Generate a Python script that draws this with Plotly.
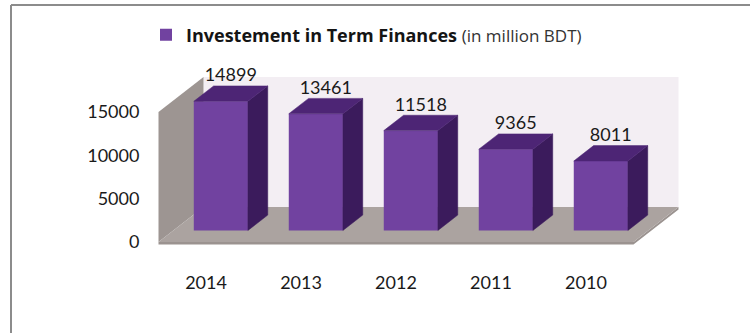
import plotly.graph_objects as go

# ---- data ----
years = ["2014", "2013", "2012", "2011", "2010"]
investment = [14899, 13461, 11518, 9365, 8011]
y_ticks = [0, 5000, 10000, 15000]
y_tick_text = ["0", "5000", "10000", "15000"]

# ---- oblique 3D projection (axis units) ----
WALL_TOP = 15000        # height of the side / back walls
DEPTH_X = 0.474         # full floor depth, horizontal shift in category units
DEPTH_Y = 4040          # full floor depth, vertical shift in value units
BAR_W = 0.57            # bar width in category units
BAR_D0, BAR_D1 = 0.33, 0.77   # bar front / back as fraction of floor depth

FRONT = "#7142a0"
TOP = "#4d2575"
SIDE = "#3b1b5c"
FLOOR = "#aba3a0"
FLOOR_EDGE = "#9b9390"
LWALL = "#9d9592"
BWALL = "#f3eef3"
FONT = "Lato"
LEGEND_FONT = "Open Sans"

W, H = 750, 333
M = dict(l=150, r=20, t=50, b=73)
X_RANGE = [-0.5895, 5.516]
Y_RANGE = [-2077, 22154]

n = len(years)
xs = list(range(n))


def paper_x(px):
    return (px - M["l"]) / (W - M["l"] - M["r"])


def paper_y(py):
    return (H - M["b"] - py) / (H - M["t"] - M["b"])


def poly_path(pts):
    return "M " + " L ".join(f"{x},{y}" for x, y in pts) + " Z"


fig = go.Figure()

# ---- walls and floor (drawn beneath the bars) ----
x_lo, x_hi = -0.5, n - 0.5
shapes = [
    # back wall
    dict(type="path", xref="x", yref="y", layer="below", line=dict(width=0),
         fillcolor=BWALL,
         path=poly_path([(x_lo + DEPTH_X, DEPTH_Y), (x_hi + DEPTH_X, DEPTH_Y),
                         (x_hi + DEPTH_X, WALL_TOP + DEPTH_Y),
                         (x_lo + DEPTH_X, WALL_TOP + DEPTH_Y)])),
    # left side wall
    dict(type="path", xref="x", yref="y", layer="below", line=dict(width=0),
         fillcolor=LWALL,
         path=poly_path([(x_lo, 0), (x_lo, WALL_TOP),
                         (x_lo + DEPTH_X, WALL_TOP + DEPTH_Y),
                         (x_lo + DEPTH_X, DEPTH_Y)])),
    # floor thickness
    dict(type="path", xref="x", yref="y", layer="below", line=dict(width=0),
         fillcolor=FLOOR_EDGE,
         path=poly_path([(x_lo, 0), (x_hi, 0), (x_hi + DEPTH_X, DEPTH_Y),
                         (x_hi + DEPTH_X, DEPTH_Y - 300), (x_hi, -300),
                         (x_lo, -300)])),
    # floor
    dict(type="path", xref="x", yref="y", layer="below", line=dict(width=0),
         fillcolor=FLOOR,
         path=poly_path([(x_lo, 0), (x_lo + DEPTH_X, DEPTH_Y),
                         (x_hi + DEPTH_X, DEPTH_Y), (x_hi, 0)])),
    # outer frame
    dict(type="line", xref="paper", yref="paper",
         x0=paper_x(11), x1=paper_x(W + 5), y0=paper_y(5), y1=paper_y(5),
         line=dict(color="#8c8c8c", width=2)),
    dict(type="line", xref="paper", yref="paper",
         x0=paper_x(11), x1=paper_x(11), y0=paper_y(5), y1=paper_y(H + 5),
         line=dict(color="#8c8c8c", width=2)),
]

# ---- bar front faces ----
d0x, d0y = BAR_D0 * DEPTH_X, BAR_D0 * DEPTH_Y
d1x, d1y = BAR_D1 * DEPTH_X, BAR_D1 * DEPTH_Y
fig.add_trace(go.Bar(
    x=[i + d0x for i in xs], y=investment, base=d0y, width=BAR_W,
    marker=dict(color=FRONT, line=dict(width=0)),
    name="<b>Investement in Term Finances</b> "
         "<span style='font-size:17px;color:#333'>(in million BDT)</span>",
    showlegend=True, hoverinfo="skip",
))

# ---- bar side and top faces ----
for i, v in zip(xs, investment):
    xl, xr = i - BAR_W / 2, i + BAR_W / 2
    # right side
    fig.add_trace(go.Scatter(
        x=[xr + d0x, xr + d1x, xr + d1x, xr + d0x, xr + d0x],
        y=[d0y, d1y, v + d1y, v + d0y, d0y],
        mode="lines", fill="toself", fillcolor=SIDE,
        line=dict(color=SIDE, width=0.5), showlegend=False, hoverinfo="skip"))
    # top
    fig.add_trace(go.Scatter(
        x=[xl + d0x, xr + d0x, xr + d1x, xl + d1x, xl + d0x],
        y=[v + d0y, v + d0y, v + d1y, v + d1y, v + d0y],
        mode="lines", fill="toself", fillcolor=TOP,
        line=dict(color=TOP, width=0.5), showlegend=False, hoverinfo="skip"))

# ---- value labels ----
mid = (BAR_D0 + BAR_D1) / 2
fig.add_trace(go.Scatter(
    x=[i + mid * DEPTH_X for i in xs],
    y=[v + d1y for v in investment],
    mode="text", text=[str(v) for v in investment],
    textposition="top center",
    textfont=dict(family=FONT, size=18, color="#1a1a1a"),
    showlegend=False, hoverinfo="skip"))

fig.update_layout(
    width=W, height=H, margin=M,
    paper_bgcolor="white", plot_bgcolor="white",
    font=dict(family=FONT, size=18, color="#1a1a1a"),
    shapes=shapes,
    showlegend=True,
    legend=dict(orientation="h", x=paper_x(146), y=paper_y(35),
                xanchor="left", yanchor="middle",
                font=dict(family=LEGEND_FONT, size=18, color="#141414"),
                bgcolor="rgba(0,0,0,0)"),
    xaxis=dict(range=X_RANGE, tickvals=xs, ticktext=years,
               showgrid=False, zeroline=False, showline=False,
               ticks="outside", ticklen=6, tickcolor="rgba(0,0,0,0)",
               tickfont=dict(family=FONT, size=18, color="#1a1a1a"),
               fixedrange=True),
    yaxis=dict(range=Y_RANGE, tickvals=y_ticks, ticktext=y_tick_text,
               showgrid=False, zeroline=False, showline=False,
               ticks="outside", ticklen=6, tickcolor="rgba(0,0,0,0)",
               tickfont=dict(family=FONT, size=18, color="#1a1a1a"),
               fixedrange=True),
)

fig.write_html("out.html")
